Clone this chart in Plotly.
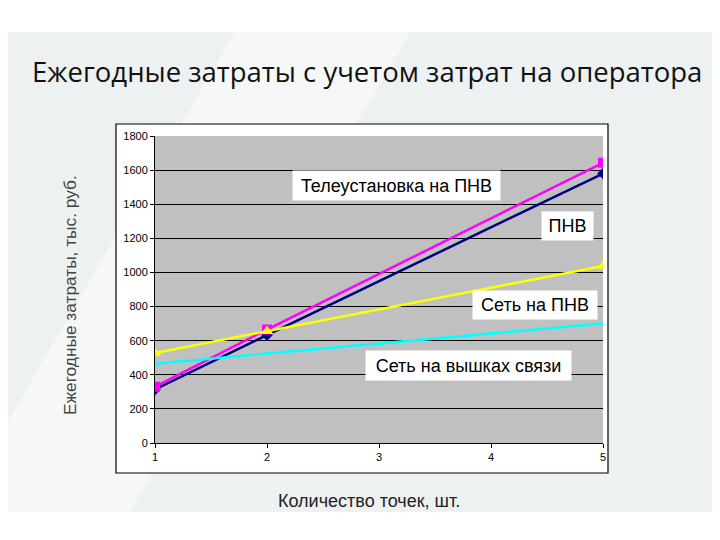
import plotly.graph_objects as go

# ---- data ----
x_points = [1, 2, 5]
pnv = [315, 633, 1580]            # ПНВ (navy)
tele_pnv = [330, 665, 1643]       # Телеустановка на ПНВ (magenta)
net_pnv = [528, 655, 1038]        # Сеть на ПНВ (yellow)
net_towers = [465, 525, 700]      # Сеть на вышках связи (cyan)

series_names = ["ПНВ", "Телеустановка на ПНВ", "Сеть на ПНВ", "Сеть на вышках связи"]
x_ticks = [1, 2, 3, 4, 5]
y_ticks = [0, 200, 400, 600, 800, 1000, 1200, 1400, 1600, 1800]

title_text = "Ежегодные затраты с учетом затрат на оператора"
x_title = "Количество точек, шт."
y_title = "Ежегодные затраты, тыс. руб."

OFF = 8  # page body margin
W, H = 720 - OFF, 540 - OFF
L, R, T, B = 155 - OFF, 117, 136 - OFF, 97
pw, ph = W - L - R, H - T - B


def px(xp):
    return (xp - OFF - L) / pw


def py(yp):
    return (H - B - (yp - OFF)) / ph


fig = go.Figure()

fig.add_trace(go.Scatter(x=x_points, y=pnv, name=series_names[0], mode="lines+markers",
                         line=dict(color="#000080", width=2.5),
                         marker=dict(symbol="diamond", size=9, color="#000080")))
fig.add_trace(go.Scatter(x=x_points, y=tele_pnv, name=series_names[1], mode="lines+markers",
                         line=dict(color="#ff00ff", width=2.5),
                         marker=dict(symbol="square", size=10, color="#ff00ff")))
fig.add_trace(go.Scatter(x=x_points, y=net_pnv, name=series_names[2], mode="lines+markers",
                         line=dict(color="#ffff00", width=2.5),
                         marker=dict(symbol="triangle-up", size=11, color="#ffff00")))
fig.add_trace(go.Scatter(x=x_points, y=net_towers, name=series_names[3], mode="lines",
                         line=dict(color="#00ffff", width=2.5)))

shapes = [
    # slide background band
    dict(type="rect", xref="paper", yref="paper", x0=px(0), x1=px(730), y0=py(512), y1=py(32),
         fillcolor="#eef1f1", line=dict(width=0), layer="below"),
    # lighter diagonal band
    dict(type="path", xref="paper", yref="paper",
         path=f"M {px(235)} {py(32)} L {px(410)} {py(32)} L {px(130)} {py(512)} L {px(-45)} {py(512)} Z",
         fillcolor="#f6f8f8", line=dict(width=0), layer="below"),
    # chart frame
    dict(type="rect", xref="paper", yref="paper", x0=px(116), x1=px(608), y0=py(473), y1=py(124),
         fillcolor="white", line=dict(color="black", width=1.2), layer="below"),
    # plot area
    dict(type="rect", xref="x", yref="y", x0=1, x1=5, y0=0, y1=1800,
         fillcolor="#c0c0c0", line=dict(width=0), layer="below"),
]

annotations = [
    dict(text=title_text, xref="paper", yref="paper", x=px(367), y=py(72), showarrow=False,
         font=dict(family="Open Sans", size=27.5, color="#111111"), xanchor="center", yanchor="middle"),
    dict(text=x_title, xref="paper", yref="paper", x=px(369), y=py(501), showarrow=False,
         font=dict(family="Liberation Sans", size=18, color="#222222"), xanchor="center", yanchor="middle"),
    dict(text=y_title, xref="paper", yref="paper", x=px(70), y=py(295), showarrow=False, textangle=-90,
         font=dict(family="Liberation Sans", size=17.3, color="#444444"), xanchor="center", yanchor="middle"),
]

label_boxes = [
    (series_names[1], 3.156, 1510, 207, 29),
    (series_names[0], 4.683, 1272, 51, 28),
    (series_names[2], 4.393, 809, 124, 28),
    (series_names[3], 3.799, 454, 205, 29),
]
for txt, xx, yy, w, h in label_boxes:
    annotations.append(dict(text=txt, x=xx, y=yy, xref="x", yref="y", showarrow=False,
                            bgcolor="white", borderpad=0, width=w, height=h,
                            font=dict(family="Liberation Sans", size=18, color="black"),
                            xanchor="center", yanchor="middle"))

fig.update_layout(
    width=W, height=H,
    margin=dict(l=L, r=R, t=T, b=B),
    paper_bgcolor="white",
    plot_bgcolor="rgba(0,0,0,0)",
    showlegend=False,
    shapes=shapes,
    annotations=annotations,
    font=dict(family="Liberation Sans", color="black"),
)
fig.update_xaxes(range=[1, 5], tickvals=x_ticks, showgrid=False, zeroline=False,
                 showline=True, linecolor="black", linewidth=1,
                 ticks="outside", ticklen=4, tickcolor="black",
                 tickfont=dict(size=11, family="Liberation Sans", color="black"))
fig.update_yaxes(range=[0, 1800], tickvals=y_ticks, showgrid=True, gridcolor="black", gridwidth=1,
                 zeroline=False, showline=True, linecolor="black", linewidth=1,
                 ticks="outside", ticklen=4, tickcolor="black",
                 tickfont=dict(size=11, family="Liberation Sans", color="black"))

fig.write_html("out.html")
